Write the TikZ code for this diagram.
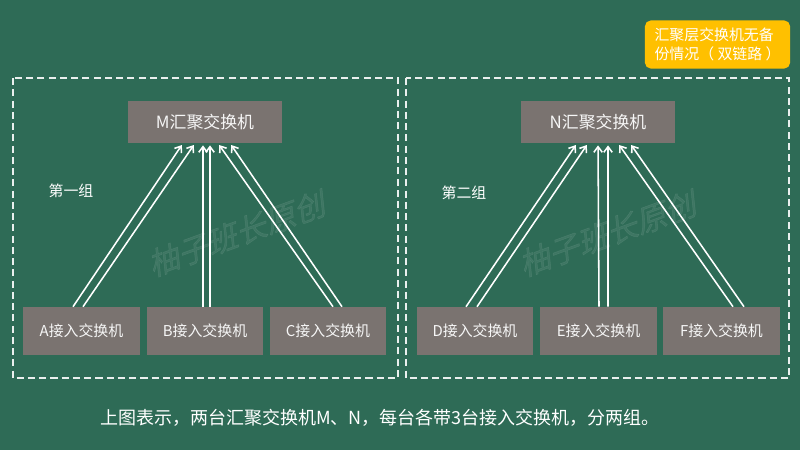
\documentclass[tikz,border=0pt]{standalone}
\usepackage{fontspec}
\setmainfont{Noto Sans CJK SC}
\newfontfamily\markfont[FakeSlant=0.25,FakeBold=1.5]{Noto Sans CJK SC}
\usetikzlibrary{arrows.meta}

\definecolor{board}{RGB}{46,107,86}
\definecolor{boxgray}{RGB}{122,115,112}
\definecolor{notegold}{RGB}{255,192,0}

\tikzset{
  accsw/.style={fill=boxgray, text=white!93!gray, inner sep=0pt,
    minimum width=2.9cm, minimum height=1.2cm, font=\fontsize{10.6}{12}\selectfont},
  aggsw/.style={accsw, minimum width=3.85cm, minimum height=1.05cm,
    font=\fontsize{12}{14}\selectfont},
  uplink/.style={draw=white, line width=1.1pt, shorten >=1.5pt,
    -{Straight Barb[length=4pt,width=6pt]}},
  groupframe/.style={draw=white!90!board, line width=0.8pt, dash pattern=on 5pt off 3pt},
  watermark/.style={text=white, opacity=0.08, rotate=20,
    font=\markfont\fontsize{22}{24}\selectfont},
}

\begin{document}
\begin{tikzpicture}[x=0.025cm, y=-0.025cm]

        \fill[board] (0, 0) rectangle (800, 450);
        \useasboundingbox (0, 0) rectangle (800, 450);

        % the two groups
        \draw[groupframe] (13, 78) rectangle (398, 378);
        \draw[groupframe] (406, 78) rectangle (789, 378);

        \node[watermark] (markM) at (236, 234) {柚子班长原创};
        \node[watermark] (markN) at (607, 234) {柚子班长原创};

        \node[text=white, font=\fontsize{10.6}{12}\selectfont] (grpM) at (71, 191) {第一组};
        \node[text=white, font=\fontsize{10.6}{12}\selectfont] (grpN) at (464, 193) {第二组};

        \node[aggsw] (M) at (205, 122) {M汇聚交换机};
        \node[aggsw] (N) at (598, 122) {N汇聚交换机};

        \node[accsw] (A) at (81.5, 331) {A接入交换机};
        \node[accsw] (B) at (205, 331) {B接入交换机};
        \node[accsw] (C) at (328, 331) {C接入交换机};
        \node[accsw] (D) at (475, 331) {D接入交换机};
        \node[accsw] (E) at (598.5, 331) {E接入交换机};
        \node[accsw] (F) at (721.5, 331) {F接入交换机};

        % double links, group one
        \draw[uplink] ([shift={(-8.5, 0)}]A.north) -- ([shift={(-22, 0)}]M.south);
        \draw[uplink] ([shift={(1.5, 0)}]A.north) -- ([shift={(-10, 0)}]M.south);
        \draw[uplink] ([shift={(-2, 0)}]B.north) -- ([shift={(-2, 0)}]M.south);
        \draw[uplink] ([shift={(5, 0)}]B.north) -- ([shift={(5, 0)}]M.south);
        \draw[uplink] ([shift={(5, 0)}]C.north) -- ([shift={(13, 0)}]M.south);
        \draw[uplink] ([shift={(14, 0)}]C.north) -- ([shift={(25, 0)}]M.south);

        % double links, group two
        \draw[uplink] ([shift={(-9, 0)}]D.north) -- ([shift={(-21, 0)}]N.south);
        \draw[uplink] ([shift={(2, 0)}]D.north) -- ([shift={(-10, 0)}]N.south);
        \draw[uplink] ([shift={(0.5, 0)}]E.north) -- ([shift={(0, 0)}]N.south);
        \draw[uplink] ([shift={(9.5, 0)}]E.north) -- ([shift={(10, 0)}]N.south);
        \draw[uplink] ([shift={(11.5, 0)}]F.north) -- ([shift={(20, 0)}]N.south);
        \draw[uplink] ([shift={(22.5, 0)}]F.north) -- ([shift={(32, 0)}]N.south);

        \node[fill=notegold, rounded corners=4pt, text=white, align=left,
          minimum width=3.625cm, minimum height=1.2cm, inner sep=0pt,
          font=\fontsize{10.6}{13.5}\selectfont] (note) at (717.5, 44.5)
          {汇聚层交换机无备\\份情况（ 双链路 ）};

        \node[text=white, font=\fontsize{12.8}{15}\selectfont] (caption) at (380, 418)
          {上图表示，两台汇聚交换机M、N，每台各带3台接入交换机，分两组。};

\end{tikzpicture}
\end{document}
